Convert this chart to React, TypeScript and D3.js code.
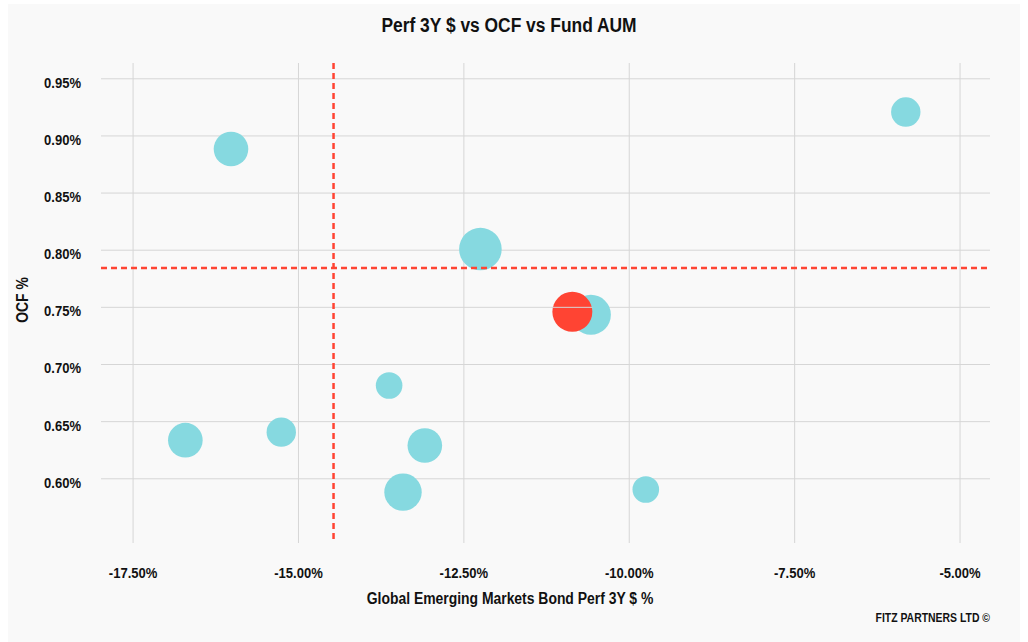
import React from "react";
import * as d3 from "d3";

// ---- data ----
const fundNames = ["Fund A", "Fund B", "Fund C", "Fund D", "Fund E", "Fund F", "Fund G", "Fund H", "Fund I", "Fund J"];
const perf3Y = [-16.02, -16.71, -15.26, -13.63, -13.42, -13.09, -12.25, -10.58, -9.75, -5.82];
const ocf = [0.8885, 0.6338, 0.6408, 0.6816, 0.5883, 0.6291, 0.801, 0.7435, 0.5906, 0.9209];
const aum = [660, 660, 476, 390, 770, 660, 1000, 880, 390, 476];

const focusPerf = -10.86;
const focusOcf = 0.7461;
const focusAum = 880;

const avgPerf = -14.47;
const avgOcf = 0.7844;

const xTicks = [-17.5, -15, -12.5, -10, -7.5, -5];
const yTicks = [0.6, 0.65, 0.7, 0.75, 0.8, 0.85, 0.9, 0.95];

const W = 1028;
const H = 642;
const FONT = "'Liberation Sans', Arial, sans-serif";
const SX = 0.87;

function T(props: { x: number; y: number; size: number; anchor?: string; rot?: number; children: React.ReactNode }) {
  const { x, y, size, anchor = "middle", rot = 0, children } = props;
  return (
    <text
      transform={`translate(${x},${y}) rotate(${rot}) scale(${SX},1)`}
      textAnchor={anchor}
      fontSize={size}
      fontWeight="bold"
      fill="#111"
    >
      {children}
    </text>
  );
}

export default function App() {
  const left = 101, right = 990, top = 63, bottom = 543;
  const x = d3.scaleLinear().domain([-17.985, -4.547]).range([left, right]);
  const y = d3.scaleLinear().domain([0.5438, 0.9638]).range([bottom, top]);
  const r = d3.scaleSqrt().domain([0, 1000]).range([0, 21.3]);

  const fmt = (v: number) => v.toFixed(2) + "%";

  const pts = perf3Y.map((p, i) => ({ name: fundNames[i], p, o: ocf[i], a: aum[i] }));

  return (
    <svg width={W} height={H} style={{ position: "absolute", left: 0, top: 0 }} fontFamily={FONT}>
      <rect x={8} y={4} width={1012} height={H - 4} fill="#f9f9f9" />
      <T x={509} y={32} size={20}>Perf 3Y $ vs OCF vs Fund AUM</T>
      {/* gridlines */}
      {yTicks.map((t) => (
        <line key={"gy" + t} x1={left} x2={right} y1={y(t)} y2={y(t)} stroke="#d6d6d6" strokeWidth={1} />
      ))}
      {xTicks.map((t) => (
        <line key={"gx" + t} x1={x(t)} x2={x(t)} y1={top} y2={bottom} stroke="#d6d6d6" strokeWidth={1} />
      ))}
      {/* tick labels */}
      {yTicks.map((t) => (
        <T key={"ty" + t} x={81} y={y(t) + 9} size={15} anchor="end">
          {fmt(t)}
        </T>
      ))}
      {xTicks.map((t) => (
        <T key={"tx" + t} x={x(t)} y={578} size={15}>
          {fmt(t)}
        </T>
      ))}
      {/* bubbles */}
      {pts.map((d) => (
        <circle key={d.name} cx={x(d.p)} cy={y(d.o)} r={r(d.a)} fill="#86d9e0" />
      ))}
      {/* reference lines */}
      <line x1={x(avgPerf)} x2={x(avgPerf)} y1={top} y2={bottom} stroke="#ff4433" strokeWidth={2.5} strokeDasharray="6,4" />
      <line x1={left} x2={right} y1={y(avgOcf)} y2={y(avgOcf)} stroke="#ff4433" strokeWidth={2.5} strokeDasharray="6,4" />
      <circle cx={x(focusPerf)} cy={y(focusOcf)} r={r(focusAum)} fill="#ff4433" />
      <line x1={x(focusPerf) - r(focusAum)} x2={x(focusPerf) + r(focusAum)} y1={y(0.75)} y2={y(0.75)} stroke="#d6d6d6" strokeWidth={1} />
      {/* axis titles */}
      <T x={510} y={604} size={16}>Global Emerging Markets Bond Perf 3Y $ %</T>
      <T x={28} y={300} size={16} rot={-90}>OCF %</T>
      <T x={990} y={621.5} size={12} anchor="end">FITZ PARTNERS LTD ©</T>
    </svg>
  );
}
